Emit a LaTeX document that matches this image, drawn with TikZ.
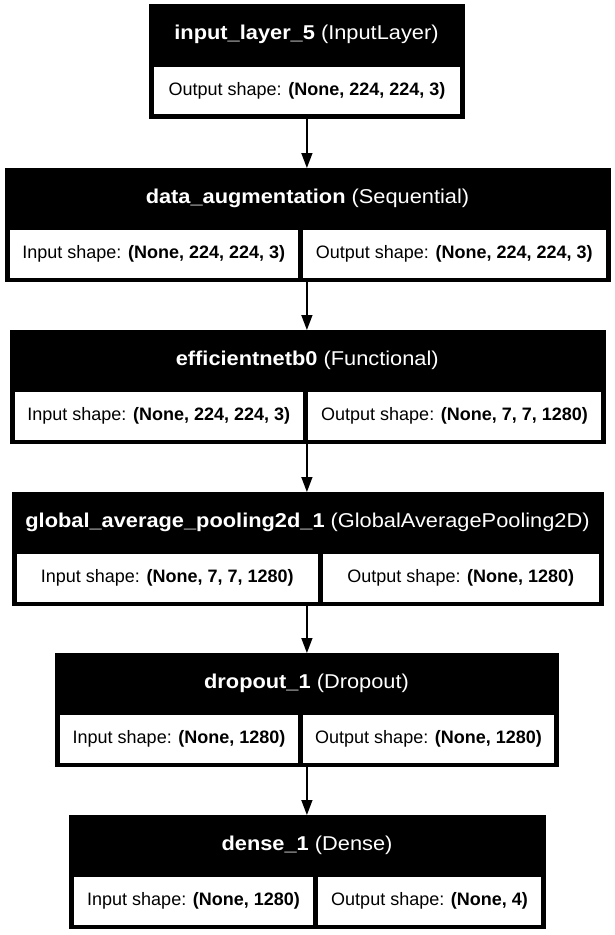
\documentclass[tikz,border=0pt]{standalone}
\usepackage{fontspec}
\setmainfont{Liberation Sans}
\newfontfamily\ttlfont[FakeStretch=1.09]{Liberation Sans}
\usetikzlibrary{arrows.meta}
\begin{document}
\begin{tikzpicture}[x=1pt,y=-1pt,
  outer/.style={fill=black, draw=black, line width=0.8pt, anchor=north west, inner sep=0pt},
  ttl/.style={text=white, font=\ttlfont\fontsize{20}{24}\selectfont, inner sep=0pt},
  cell/.style={fill=white, draw=black, line width=1.2pt, anchor=north west, inner sep=0pt, minimum height=48.5pt, font=\fontsize{18}{22}\selectfont},
  arr/.style={line width=1.4pt, -{Triangle[length=15pt,width=11pt]}}]
\useasboundingbox[fill=white] (0,0) rectangle (614,935);

% box 1
\node[outer, minimum width=315pt, minimum height=114pt] (b1) at (149,4) {};
\node[ttl] (t1) at (306.5,34.5) {\textbf{input\_layer\_5} (InputLayer)};
\node[cell, minimum width=307pt] (c1) at (153,65.5) {Output shape: \textbf{(None, 224, 224, 3)}};

% box 2
\node[outer, minimum width=605pt, minimum height=113pt] (b2) at (5,168) {};
\node[ttl] (t2) at (307.5,198.5) {\textbf{data\_augmentation} (Sequential)};
\node[cell, minimum width=288.5pt] (c2a) at (9,229) {Input shape: \textbf{(None, 224, 224, 3)}};
\node[cell, minimum width=304.5pt] (c2b) at (301.5,229) {Output shape: \textbf{(None, 224, 224, 3)}};

% box 3
\node[outer, minimum width=595.5pt, minimum height=113pt] (b3) at (9.5,330) {};
\node[ttl] (t3) at (307.25,360.5) {\textbf{efficientnetb0} (Functional)};
\node[cell, minimum width=289.5pt] (c3a) at (13.5,391) {Input shape: \textbf{(None, 224, 224, 3)}};
\node[cell, minimum width=294pt] (c3b) at (307,391) {Output shape: \textbf{(None, 7, 7, 1280)}};

% box 4
\node[outer, minimum width=591pt, minimum height=113pt] (b4) at (12,492) {};
\node[ttl] (t4) at (307.5,522.5) {\textbf{global\_average\_pooling2d\_1} (GlobalAveragePooling2D)};
\node[cell, minimum width=301.5pt] (c4a) at (16,553) {Input shape: \textbf{(None, 7, 7, 1280)}};
\node[cell, minimum width=277.5pt] (c4b) at (321.5,553) {Output shape: \textbf{(None, 1280)}};

% box 5
\node[outer, minimum width=503pt, minimum height=113pt] (b5) at (55,653) {};
\node[ttl] (t5) at (306.5,683.5) {\textbf{dropout\_1} (Dropout)};
\node[cell, minimum width=239pt] (c5a) at (59,714) {Input shape: \textbf{(None, 1280)}};
\node[cell, minimum width=252pt] (c5b) at (302,714) {Output shape: \textbf{(None, 1280)}};

% box 6
\node[outer, minimum width=476pt, minimum height=113pt] (b6) at (69,815) {};
\node[ttl] (t6) at (307,845.5) {\textbf{dense\_1} (Dense)};
\node[cell, minimum width=240pt] (c6a) at (73,876) {Input shape: \textbf{(None, 1280)}};
\node[cell, minimum width=224pt] (c6b) at (317,876) {Output shape: \textbf{(None, 4)}};

% arrows
\draw[arr] (b1.south) -- (b1.south |- b2.north);
\draw[arr] (b1.south |- b2.south) -- (b1.south |- b3.north);
\draw[arr] (b1.south |- b3.south) -- (b1.south |- b4.north);
\draw[arr] (b1.south |- b4.south) -- (b1.south |- b5.north);
\draw[arr] (b1.south |- b5.south) -- (b1.south |- b6.north);
\end{tikzpicture}
\end{document}
